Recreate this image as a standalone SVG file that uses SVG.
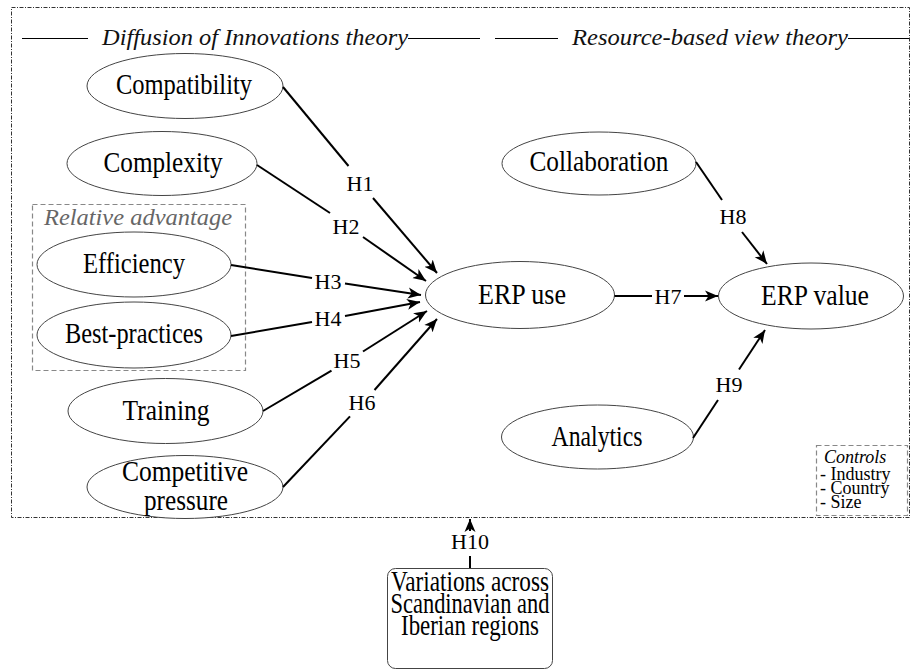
<svg xmlns="http://www.w3.org/2000/svg" width="915" height="672" viewBox="0 0 915 672">
<defs>
<marker id="arr" markerUnits="userSpaceOnUse" markerWidth="14" markerHeight="12" refX="13" refY="6" orient="auto">
<path d="M0,0.5 L13,6 L0,11.5 L3.5,6 Z" fill="#000"/>
</marker>
<style>
.frame{fill:none;stroke:#333;stroke-width:1;stroke-dasharray:4 1.5 1 1.5}
.dash{fill:none;stroke:#888;stroke-width:1.2;stroke-dasharray:5 3}
.node ellipse{fill:#fff;stroke:#444;stroke-width:1}
.lbl{font-family:"Liberation Serif","Times New Roman",serif;font-size:30px;fill:#000;text-anchor:middle}
.hd{font-family:"Liberation Serif","Times New Roman",serif;font-size:24px;font-style:italic;fill:#111}
.hl{stroke:#000;stroke-width:1}
.cn line{stroke:#000;stroke-width:2}
.h{font-family:"Liberation Serif","Times New Roman",serif;font-size:22px;fill:#000;text-anchor:middle}
.ctl{font-family:"Liberation Serif","Times New Roman",serif;font-size:18px;fill:#000}
</style>
</defs>
<rect class="frame" x="11.5" y="7.5" width="898" height="510"/>
<g id="headers">
<line class="hl" x1="22" y1="38.5" x2="88" y2="38.5"/>
<text class="hd" x="102" y="45" textLength="306" lengthAdjust="spacingAndGlyphs">Diffusion of Innovations theory</text>
<line class="hl" x1="408" y1="38.5" x2="480" y2="38.5"/>
<line class="hl" x1="495" y1="38.5" x2="558" y2="38.5"/>
<text class="hd" x="572" y="45" textLength="276" lengthAdjust="spacingAndGlyphs">Resource-based view theory</text>
<line class="hl" x1="848" y1="38.5" x2="909" y2="38.5"/>
</g>
<g id="relative-advantage">
<rect class="dash" x="32.5" y="204.5" width="213" height="166"/>
<text x="138" y="225" font-family="Liberation Serif, serif" font-size="24" font-style="italic" fill="#666" text-anchor="middle" textLength="188" lengthAdjust="spacingAndGlyphs">Relative advantage</text>
</g>
<g id="compatibility" class="node"><ellipse cx="185" cy="86" rx="98" ry="32.5"/><text class="lbl" x="184" y="94" textLength="136" lengthAdjust="spacingAndGlyphs">Compatibility</text></g>
<g id="complexity" class="node"><ellipse cx="162" cy="163.5" rx="95" ry="32"/><text class="lbl" x="163" y="172" textLength="119" lengthAdjust="spacingAndGlyphs">Complexity</text></g>
<g id="efficiency" class="node"><ellipse cx="134" cy="264.5" rx="97" ry="32.5"/><text class="lbl" x="134" y="273" textLength="102" lengthAdjust="spacingAndGlyphs">Efficiency</text></g>
<g id="best-practices" class="node"><ellipse cx="134" cy="335" rx="97" ry="33"/><text class="lbl" x="134" y="343" textLength="138" lengthAdjust="spacingAndGlyphs">Best-practices</text></g>
<g id="training" class="node"><ellipse cx="165.5" cy="411" rx="97.5" ry="32.5"/><text class="lbl" x="166" y="420" textLength="87" lengthAdjust="spacingAndGlyphs">Training</text></g>
<g id="competitive-pressure" class="node"><ellipse cx="185" cy="487" rx="98" ry="31.5"/><text class="lbl" x="185" y="481" textLength="126" lengthAdjust="spacingAndGlyphs">Competitive</text><text class="lbl" x="186" y="510" textLength="84" lengthAdjust="spacingAndGlyphs">pressure</text></g>
<g id="erp-use" class="node"><ellipse cx="520" cy="295" rx="94.5" ry="33.5"/><text class="lbl" x="522" y="304" textLength="88" lengthAdjust="spacingAndGlyphs">ERP use</text></g>
<g id="erp-value" class="node"><ellipse cx="811" cy="296" rx="92.5" ry="33"/><text class="lbl" x="815" y="305" textLength="108" lengthAdjust="spacingAndGlyphs">ERP value</text></g>
<g id="collaboration" class="node"><ellipse cx="599" cy="163.5" rx="97" ry="31.5"/><text class="lbl" x="599" y="171" textLength="139" lengthAdjust="spacingAndGlyphs">Collaboration</text></g>
<g id="analytics" class="node"><ellipse cx="597.5" cy="437" rx="96" ry="32"/><text class="lbl" x="597" y="446" textLength="91" lengthAdjust="spacingAndGlyphs">Analytics</text></g>
<g id="controls">
<rect class="dash" x="816.5" y="445.5" width="91" height="70"/>
<text class="ctl" x="824" y="463" font-size="20" font-style="italic">Controls</text>
<text class="ctl" x="820" y="480">- Industry</text>
<text class="ctl" x="820" y="494">- Country</text>
<text class="ctl" x="820" y="508">- Size</text>
</g>
<g id="regions">
<rect x="387.5" y="568.5" width="165" height="100" rx="8" fill="#fff" stroke="#444" stroke-width="1"/>
<text class="lbl" x="470" y="591" font-size="26" textLength="158" lengthAdjust="spacingAndGlyphs">Variations across</text>
<text class="lbl" x="470" y="613" font-size="26" textLength="159" lengthAdjust="spacingAndGlyphs">Scandinavian and</text>
<text class="lbl" x="470" y="635" font-size="26" textLength="138" lengthAdjust="spacingAndGlyphs">Iberian regions</text>
</g>
<g id="connectors" class="cn">
<line x1="283" y1="87" x2="348.5" y2="166"/><line x1="373" y1="198" x2="437" y2="273" marker-end="url(#arr)"/>
<line x1="257" y1="165" x2="330" y2="213"/><line x1="363" y1="237" x2="426" y2="281" marker-end="url(#arr)"/>
<line x1="231" y1="265" x2="312" y2="278"/><line x1="345" y1="283.5" x2="421" y2="295" marker-end="url(#arr)"/>
<line x1="231" y1="336" x2="312" y2="322"/><line x1="345" y1="316" x2="420" y2="302" marker-end="url(#arr)"/>
<line x1="263" y1="411" x2="331.5" y2="370.6"/><line x1="363" y1="351.5" x2="427" y2="311" marker-end="url(#arr)"/>
<line x1="283" y1="487" x2="350" y2="416.4"/><line x1="374.5" y1="390" x2="437" y2="319" marker-end="url(#arr)"/>
<line x1="614.5" y1="296" x2="652" y2="296"/><line x1="684" y1="296" x2="718" y2="296" marker-end="url(#arr)"/>
<line x1="696" y1="162" x2="722" y2="200"/><line x1="742" y1="232" x2="767" y2="264" marker-end="url(#arr)"/>
<line x1="693" y1="438" x2="718" y2="400"/><line x1="739" y1="369.5" x2="765" y2="330" marker-end="url(#arr)"/>
<line x1="470" y1="568" x2="470" y2="556" stroke-width="1.5"/><line x1="470" y1="531" x2="470" y2="519" marker-end="url(#arr)"/>
<text class="h" x="360" y="191">H1</text>
<text class="h" x="346" y="234">H2</text>
<text class="h" x="328" y="289">H3</text>
<text class="h" x="328" y="326">H4</text>
<text class="h" x="347" y="368">H5</text>
<text class="h" x="362" y="410">H6</text>
<text class="h" x="668" y="304">H7</text>
<text class="h" x="733" y="224">H8</text>
<text class="h" x="729" y="392">H9</text>
<text class="h" x="470" y="549">H10</text>
</g>
</svg>
